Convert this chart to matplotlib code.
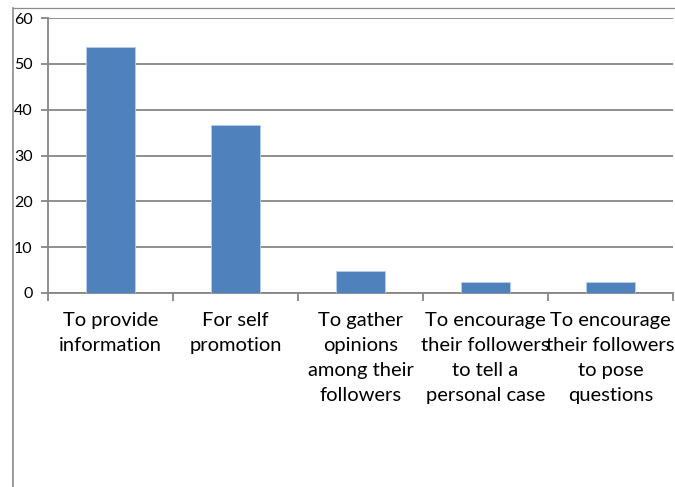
import matplotlib
matplotlib.use("Agg")
import matplotlib.pyplot as plt
from matplotlib.lines import Line2D
import numpy as np

categories = [
    "To provide\ninformation",
    "For self\npromotion",
    "To gather\nopinions\namong their\nfollowers",
    "To encourage\ntheir followers\nto tell a\npersonal case",
    "To encourage\ntheir followers\nto pose\nquestions",
]
percentages = [53.7, 36.6, 4.9, 2.4, 2.4]
y_ticks = [0, 10, 20, 30, 40, 50, 60]

W, H = 675, 487
grid_col = "#868686"
bar_col = "#4f81bd"

plt.rcParams["font.family"] = ["Lato", "DejaVu Sans"]

fig = plt.figure(figsize=(W / 100, H / 100), dpi=100)
ax = fig.add_axes([48 / W, (H - 293) / H, (673 - 48) / W, (293 - 18) / H])

x = np.arange(len(categories))
ax.bar(x, percentages, width=0.39, color=bar_col, edgecolor="#b9cde5", linewidth=0.6, zorder=3)

ax.set_xlim(-0.5, len(categories) - 0.5)
ax.set_ylim(0, 60)
ax.set_yticks(y_ticks)
ax.yaxis.grid(True, color=grid_col, linewidth=1.3)
ax.set_axisbelow(True)

# category boundaries get the tick marks, centres carry the labels
ax.set_xticks(np.arange(len(categories) + 1) - 0.5)
ax.set_xticklabels([])
ax.set_xticks(x, minor=True)
ax.set_xticklabels(categories, minor=True, fontsize=14.5, linespacing=1.55, va="top")
ax.tick_params(axis="x", which="minor", length=0, pad=14)
ax.tick_params(axis="x", which="major", length=6, width=1.3, color=grid_col)
ax.tick_params(axis="y", length=5, width=1.3, color=grid_col, labelsize=11.5, pad=6)

for side in ["top", "right"]:
    ax.spines[side].set_visible(False)
for side in ["left", "bottom"]:
    ax.spines[side].set_color(grid_col)
    ax.spines[side].set_linewidth(1.3)

# outer chart frame
fig.add_artist(Line2D([12.5 / W, 12.5 / W], [0, 1 - 8 / H], color="#8c8c8c", linewidth=1.2))
fig.add_artist(Line2D([12.5 / W, 1], [1 - 8 / H, 1 - 8 / H], color="#8c8c8c", linewidth=0.9))

fig.savefig("out.png", dpi=100)
